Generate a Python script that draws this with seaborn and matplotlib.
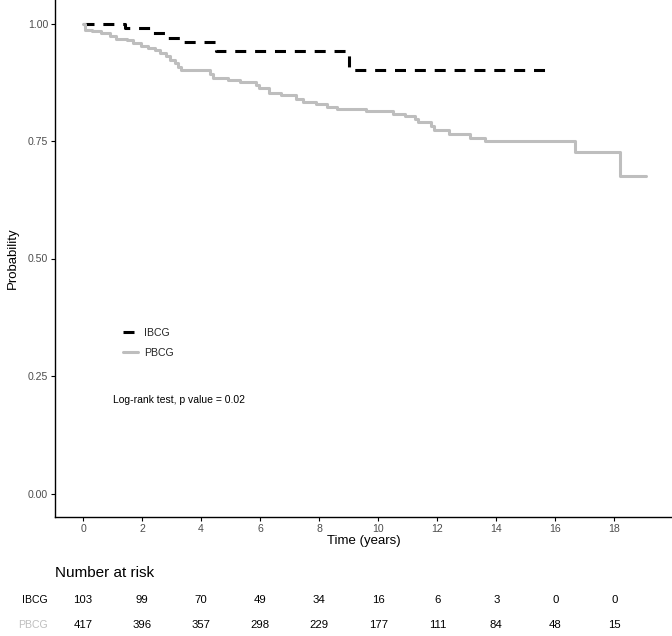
import matplotlib
matplotlib.use("Agg")
import matplotlib.pyplot as plt
import matplotlib.transforms as mtransforms
from matplotlib.lines import Line2D
import numpy as np
import pandas as pd
import seaborn as sns

# ---- data ----
groups = ["IBCG", "PBCG"]
ibcg_time = [0.0, 1.42, 2.3, 2.85, 3.35, 4.5, 9.0, 15.8]
ibcg_surv = [1.0, 0.990, 0.980, 0.970, 0.960, 0.941, 0.902, 0.902]
pbcg_time = [0.0, 0.05, 0.3, 0.6, 0.9, 1.1, 1.5, 1.7, 1.95, 2.2, 2.45, 2.6, 2.8,
             2.95, 3.1, 3.2, 3.33, 4.29, 4.41, 4.9, 5.3, 5.85, 5.95, 6.3, 6.7,
             7.2, 7.45, 7.9, 8.25, 8.6, 9.6, 10.5, 10.9, 11.25, 11.35, 11.8,
             11.9, 12.4, 13.1, 13.6, 16.67, 18.2, 19.07]
pbcg_surv = [1.0, 0.986, 0.983, 0.979, 0.973, 0.968, 0.964, 0.958, 0.952, 0.948,
             0.943, 0.937, 0.930, 0.923, 0.915, 0.908, 0.901, 0.892, 0.884,
             0.880, 0.876, 0.869, 0.862, 0.853, 0.848, 0.839, 0.833, 0.829,
             0.823, 0.818, 0.814, 0.808, 0.803, 0.797, 0.791, 0.782, 0.773,
             0.765, 0.757, 0.749, 0.726, 0.676, 0.676]
risk_times = [0, 2, 4, 6, 8, 10, 12, 14, 16, 18]
risk_ibcg = [103, 99, 70, 49, 34, 16, 6, 3, 0, 0]
risk_pbcg = [417, 396, 357, 298, 229, 177, 111, 84, 48, 15]
x_ticks = [0, 2, 4, 6, 8, 10, 12, 14, 16, 18]
y_ticks = [0.00, 0.25, 0.50, 0.75, 1.00]
y_ticklabels = ["0.00", "0.25", "0.50", "0.75", "1.00"]
pvalue_text = "Log-rank test, p value = 0.02"

df = pd.concat([
    pd.DataFrame({"time": ibcg_time, "surv": ibcg_surv, "group": "IBCG"}),
    pd.DataFrame({"time": pbcg_time, "surv": pbcg_surv, "group": "PBCG"}),
], ignore_index=True)

sns.set_theme(style="ticks")
plt.rcParams["font.family"] = ["Liberation Sans", "DejaVu Sans"]

colors = {"IBCG": "#000000", "PBCG": "#BEBEBE"}

fig = plt.figure(figsize=(6.72, 6.36), dpi=100)
ax = fig.add_axes([55 / 672, 1 - 517 / 636, 617 / 672, 517 / 636])

sns.lineplot(data=df, x="time", y="surv", hue="group", style="group",
             palette=colors, dashes={"IBCG": (3.6, 2.9), "PBCG": ""},
             estimator=None, sort=False, drawstyle="steps-post",
             linewidth=2.2, ax=ax, legend=False)

ax.set_xlim(-0.95, 19.95)
ax.set_ylim(-0.05, 1.05)
ax.set_xticks(x_ticks)
ax.set_xticklabels([str(t) for t in x_ticks])
ax.set_yticks(y_ticks)
ax.set_yticklabels(y_ticklabels)
ax.tick_params(axis="both", colors="black", labelcolor="#4D4D4D",
               labelsize=7.6, length=3, width=0.8, direction="out", pad=2)
for s in ["top", "right"]:
    ax.spines[s].set_visible(False)
for s in ["left", "bottom"]:
    ax.spines[s].set_color("black")
    ax.spines[s].set_linewidth(1.0)

ax.set_xlabel("Time (years)", fontsize=9.5, color="black", labelpad=1)
ax.set_ylabel("Probability", fontsize=9.5, color="black", labelpad=6)

# legend
handles = [Line2D([], [], color=colors["IBCG"], lw=2.2, dashes=(3.6, 2.9)),
           Line2D([], [], color=colors["PBCG"], lw=2.2)]
ax.legend(handles, groups, loc="center left", bbox_to_anchor=(0.110, 0.3365),
          frameon=False, fontsize=7.6, handlelength=1.45, handletextpad=0.55,
          labelspacing=0.95, borderpad=0, borderaxespad=0)

ax.text(0.094, 0.226, pvalue_text, transform=ax.transAxes, fontsize=7.5,
        ha="left", va="center", color="black")

# number at risk table
trans = mtransforms.blended_transform_factory(ax.transData, ax.transAxes)
ax.text(0.0, (517 - 573) / 517, "Number at risk", transform=ax.transAxes,
        fontsize=11, ha="left", va="center", color="black")
row_y = {"IBCG": (517 - 600) / 517, "PBCG": (517 - 625) / 517}
row_vals = {"IBCG": risk_ibcg, "PBCG": risk_pbcg}
for g in groups:
    ax.text(-0.0115, row_y[g], g, transform=ax.transAxes, fontsize=7.6,
            ha="right", va="center", color=colors[g])
    for t, v in zip(risk_times, row_vals[g]):
        ax.text(t, row_y[g], str(v), transform=trans, fontsize=8.2,
                ha="center", va="center", color="black")

fig.savefig("out.png", dpi=100)
